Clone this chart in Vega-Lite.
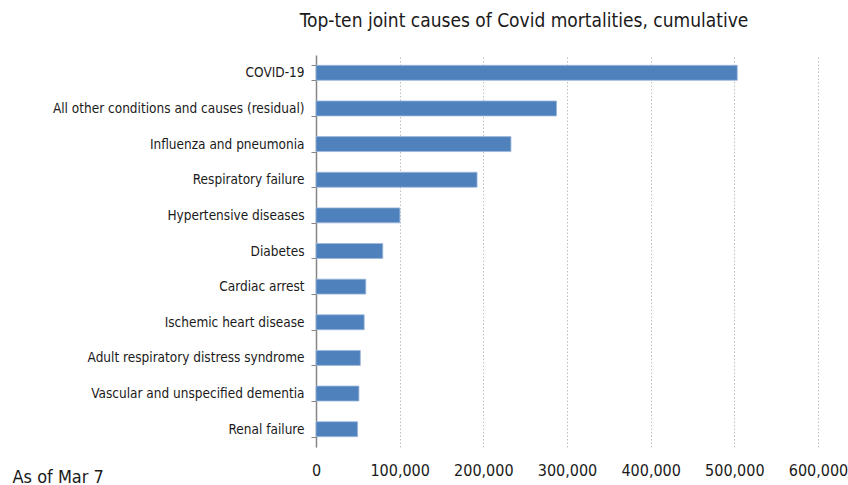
{
  "$schema": "https://vega.github.io/schema/vega-lite/v6.json",
  "autosize": {"type": "none"},
  "padding": {"left": 316, "top": 55, "right": 30, "bottom": 38},
  "width": 502,
  "height": 392,
  "background": "white",
  "title": {
    "text": "Top-ten joint causes of Covid mortalities, cumulative",
    "font": "Liberation Sans Narrow, DejaVu Sans Condensed, sans-serif",
    "fontSize": 19,
    "fontWeight": "normal",
    "color": "#1a1a1a",
    "anchor": "middle",
    "frame": "group",
    "baseline": "alphabetic",
    "offset": 24,
    "dx": -43,
    "dy": 22
  },
  "data": {
    "values": [
      {"cause": "COVID-19", "deaths": 503500},
      {"cause": "All other conditions and causes (residual)", "deaths": 287500},
      {"cause": "Influenza and pneumonia", "deaths": 233000},
      {"cause": "Respiratory failure", "deaths": 192500},
      {"cause": "Hypertensive diseases", "deaths": 100300},
      {"cause": "Diabetes", "deaths": 79800},
      {"cause": "Cardiac arrest", "deaths": 59500},
      {"cause": "Ischemic heart disease", "deaths": 57600},
      {"cause": "Adult respiratory distress syndrome", "deaths": 53000},
      {"cause": "Vascular and unspecified dementia", "deaths": 51300},
      {"cause": "Renal failure", "deaths": 49700}
    ]
  },
  "mark": {"type": "bar", "color": "#4F81BD", "stroke": "#9DB7DA", "strokeWidth": 0.8},
  "encoding": {
    "y": {
      "field": "cause",
      "type": "nominal",
      "sort": null,
      "scale": {"paddingInner": 0.58, "paddingOuter": 0.29},
      "axis": {
        "title": null,
        "domainColor": "#868686",
        "domainWidth": 1.5,
        "tickColor": "#868686",
        "tickSize": 5,
        "tickBand": "extent",
        "labelPadding": 7,
        "labelFont": "Liberation Sans Narrow, DejaVu Sans Condensed, sans-serif",
        "labelFontSize": 13.5,
        "labelColor": "#1a1a1a",
        "labelLimit": 400
      }
    },
    "x": {
      "field": "deaths",
      "type": "quantitative",
      "scale": {"domain": [0, 600000], "nice": false},
      "axis": {
        "values": [0, 100000, 200000, 300000, 400000, 500000, 600000],
        "format": ",d",
        "domain": false,
        "ticks": false,
        "grid": true,
        "gridColor": "#BFBFBF",
        "gridDash": [1.5, 2],
        "gridWidth": 1,
        "labelOverlap": false,
        "labelFlush": false,
        "labelPadding": 15,
        "labelFont": "Liberation Sans Narrow, DejaVu Sans Condensed, sans-serif",
        "labelFontSize": 16,
        "labelColor": "#1a1a1a",
        "title": "As of Mar 7",
        "titleFont": "Liberation Sans Narrow, DejaVu Sans Condensed, sans-serif",
        "titleFontSize": 18,
        "titleFontWeight": "normal",
        "titleColor": "#1a1a1a",
        "titleAnchor": "start",
        "titleAlign": "left",
        "titleBaseline": "alphabetic",
        "titleX": -304,
        "titleY": 35
      }
    }
  },
  "config": {"view": {"stroke": null}}
}
